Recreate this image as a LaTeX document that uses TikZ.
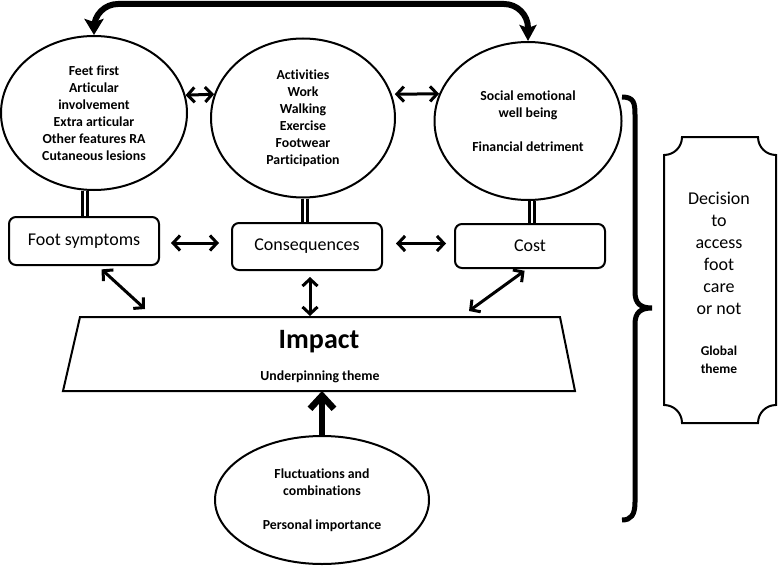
\documentclass[tikz,border=0pt]{standalone}
\usepackage{fontspec}
\setmainfont{Carlito}[Ligatures=NoCommon]
\usetikzlibrary{arrows.meta,shapes.geometric}
\begin{document}
\begin{tikzpicture}[x=1pt,y=-1pt,
 ell/.style={draw, ellipse, line width=2pt, inner sep=0pt, align=center, font=\bfseries\fontsize{13.8}{17}\selectfont},
 box/.style={draw, rounded corners=7pt, line width=2pt, minimum width=150pt, font=\fontsize{18}{21}\selectfont},
 dbl/.style={double, line width=2.2pt, double distance=2.8pt},
 arr/.style={{Straight Barb[length=7pt,width=15pt]}-{Straight Barb[length=7pt,width=15pt]}, line width=3pt},
 thickline/.style={line width=2pt}]
\useasboundingbox (0,0) rectangle (778,567);
% ellipses
\node[ell, minimum width=186pt, minimum height=154pt] (e1) at (94,113)
 {Feet first\\Articular\\involvement\\Extra articular\\Other features RA\\Cutaneous lesions};
\node[ell, minimum width=184pt, minimum height=159pt] (e2) at (303,118)
 {Activities\\Work\\Walking\\Exercise\\Footwear\\Participation};
\node[ell, minimum width=187pt, minimum height=158pt] (e3) at (528,121)
 {Social emotional\\well being\\[17pt]Financial detriment};
\node[ell, minimum width=214pt, minimum height=128pt] (e4) at (322,500)
 {Fluctuations and\\combinations\\[17pt]Personal importance};
% boxes
\node[box, minimum height=48pt] (b1) at (84,241) {Foot symptoms};
\node[box, minimum height=47pt] (b2) at (307,246.5) {Consequences};
\node[box, minimum height=44pt] (b3) at (530,246) {Cost};
% double links
\draw[dbl] ([xshift=-9pt]e1.south) -- ([xshift=-9pt]e1.south |- b1.north);
\draw[dbl] ([xshift=2pt]e2.south) -- ([xshift=2pt]e2.south |- b2.north);
\draw[dbl] ([xshift=4pt]e3.south) -- ([xshift=4pt]e3.south |- b3.north);
% impact trapezoid
\coordinate (tl) at (80,317);
\coordinate (tr) at (560,317);
\coordinate (br) at (575,391);
\coordinate (bl) at (63,391);
\draw[thickline] (tl) -- (tr) -- (br) -- (bl) -- cycle;
\node[font=\bfseries\fontsize{28}{30}\selectfont] (imp) at (319,342) {Impact};
\node[font=\bfseries\fontsize{13.8}{16}\selectfont] (under) at (320,377) {Underpinning theme};
\coordinate (t1) at (145,309);
\coordinate (t3) at (469,311);
% arrows
\draw[arr] (e1.11) -- (e2.165);
\draw[arr, shorten <=3pt] (e2.15) -- (e3.163);
\draw[arr, shorten <=11pt, shorten >=12pt] ([yshift=-2pt]b1.east) -- ([yshift=-2pt]b1.east -| b2.west);
\draw[arr, shorten <=13pt, shorten >=8pt] ([yshift=3pt]b2.east) -- ([yshift=3pt]b2.east -| b3.west);
\draw[arr, shorten <=5pt] ([xshift=14pt]b1.south) -- (t1);
\draw[arr, shorten <=6pt, shorten >=1pt] ([xshift=3pt]b2.south) -- ([xshift=3pt]b2.south |- tl);
\draw[arr, shorten <=3pt] ([xshift=-3pt]b3.south) -- (t3);
\draw[line width=6.5pt, -{Straight Barb[length=13pt,width=24pt]}] (e4.north) -- (e4.north |- bl);
% top arrow
\coordinate (topl) at (94,4);
\coordinate (topr) at (528,4);
\draw[line width=6pt, rounded corners=24pt, {Stealth[length=16pt,width=19pt,inset=3pt]}-{Stealth[length=16pt,width=17pt,inset=3pt]}]
 (e1.north) -- (topl) -- (topr) -- (e3.north);
% brace
\draw[line width=5pt] (622,97) .. controls (634,97) and (635,103) .. (635,115) -- (635,292)
 .. controls (635,304) and (641,308) .. (652,308)
 .. controls (641,308) and (635,312) .. (635,324) -- (635,502)
 .. controls (635,515) and (631,520) .. (622,520);
% decision box
\draw[thickline] (682,137) -- (758,137) .. controls (758,147) and (766,155) .. (776,155)
 -- (776,405) .. controls (766,405) and (758,413) .. (758,423)
 -- (682,423) .. controls (682,413) and (674,405) .. (664,405)
 -- (664,155) .. controls (674,155) and (682,147) .. (682,137) -- cycle;
\node[align=center, font=\fontsize{18}{22}\selectfont] (dec) at (719,253)
 {Decision\\to\\access\\foot\\care\\or not};
\node[align=center, font=\bfseries\fontsize{13.5}{18}\selectfont] (glob) at (719,360) {Global\\theme};
\end{tikzpicture}
\end{document}
